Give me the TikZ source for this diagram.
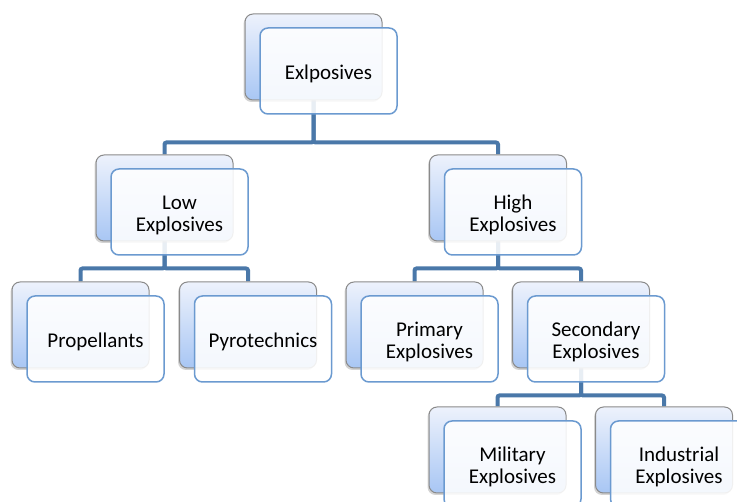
\documentclass[tikz,border=0pt]{standalone}
\usepackage{fontspec}
\setmainfont{Carlito}
\usetikzlibrary{positioning,shadows,backgrounds,calc}
\definecolor{linkblue}{HTML}{4A78A9}
\definecolor{edgeblue}{HTML}{6B9AD0}
\definecolor{shadeblue}{HTML}{A8C6F4}
\definecolor{paleblue}{HTML}{EDF2FC}
\definecolor{edgegray}{HTML}{8A8A8A}

\tikzset{
  backbox/.style={draw=edgegray, line width=1pt, rounded corners=8pt,
    minimum width=137pt, minimum height=86pt,
    top color=paleblue, bottom color=shadeblue,
    drop shadow={shadow xshift=-1.5pt, shadow yshift=-2pt, opacity=0.35}},
  frontbox/.style={draw=edgeblue, line width=1.5pt, rounded corners=8pt,
    minimum width=137pt, minimum height=86pt,
    fill=white, fill opacity=0.88, text opacity=1, align=center,
    font=\fontsize{21}{22}\selectfont, text height=20pt},
  twoline/.style={text height=42pt},
  link/.style={draw=linkblue, line width=4pt, rounded corners=2pt}
}

\begin{document}
\begin{tikzpicture}[x=1pt,y=-1pt]
        \useasboundingbox (0,0) rectangle (737,502);
        \clip (0,0) rectangle (737,502);
        % back boxes
        \node[backbox] (exp) at (313.5,57) {};
        \node[backbox] (low) at (164.5,198) {};
        \node[backbox] (high) at (498,198) {};
        \node[backbox] (prop) at (80.5,325) {};
        \node[backbox] (pyro) at (248,325) {};
        \node[backbox] (prim) at (414.5,325) {};
        \node[backbox] (sec) at (581,325) {};
        \node[backbox] (mil) at (497.5,450) {};
        \node[backbox] (ind) at (664,450) {};
        % front boxes
        \node[frontbox] (expf) at ([shift={(15,14)}]exp.center) {Exlposives};
        \node[frontbox,twoline] (lowf) at ([shift={(15,14)}]low.center) {Low\\Explosives};
        \node[frontbox,twoline] (highf) at ([shift={(15,14)}]high.center) {High\\Explosives};
        \node[frontbox] (propf) at ([shift={(15,14)}]prop.center) {Propellants};
        \node[frontbox] (pyrof) at ([shift={(15,14)}]pyro.center) {Pyrotechnics};
        \node[frontbox,twoline] (primf) at ([shift={(15,14)}]prim.center) {Primary\\Explosives};
        \node[frontbox,twoline] (secf) at ([shift={(15,14)}]sec.center) {Secondary\\Explosives};
        \node[frontbox,twoline] (milf) at ([shift={(15,14)}]mil.center) {Military\\Explosives};
        \node[frontbox,twoline] (indf) at ([shift={(15,14)}]ind.center) {Industrial\\Explosives};
        \begin{scope}[on background layer]
          \draw[link] (exp.south) -- ++(0,42) -| (low.north);
          \draw[link] (exp.south) -- ++(0,42) -| (high.north);
          \draw[link] (low.south) -- ++(0,27) -| (prop.north);
          \draw[link] (low.south) -- ++(0,27) -| (pyro.north);
          \draw[link] (high.south) -- ++(0,27) -| (prim.north);
          \draw[link] (high.south) -- ++(0,27) -| (sec.north);
          \draw[link] (sec.south) -- ++(0,27) -| (mil.north);
          \draw[link] (sec.south) -- ++(0,27) -| (ind.north);
        \end{scope}
      \end{tikzpicture}
\end{document}
